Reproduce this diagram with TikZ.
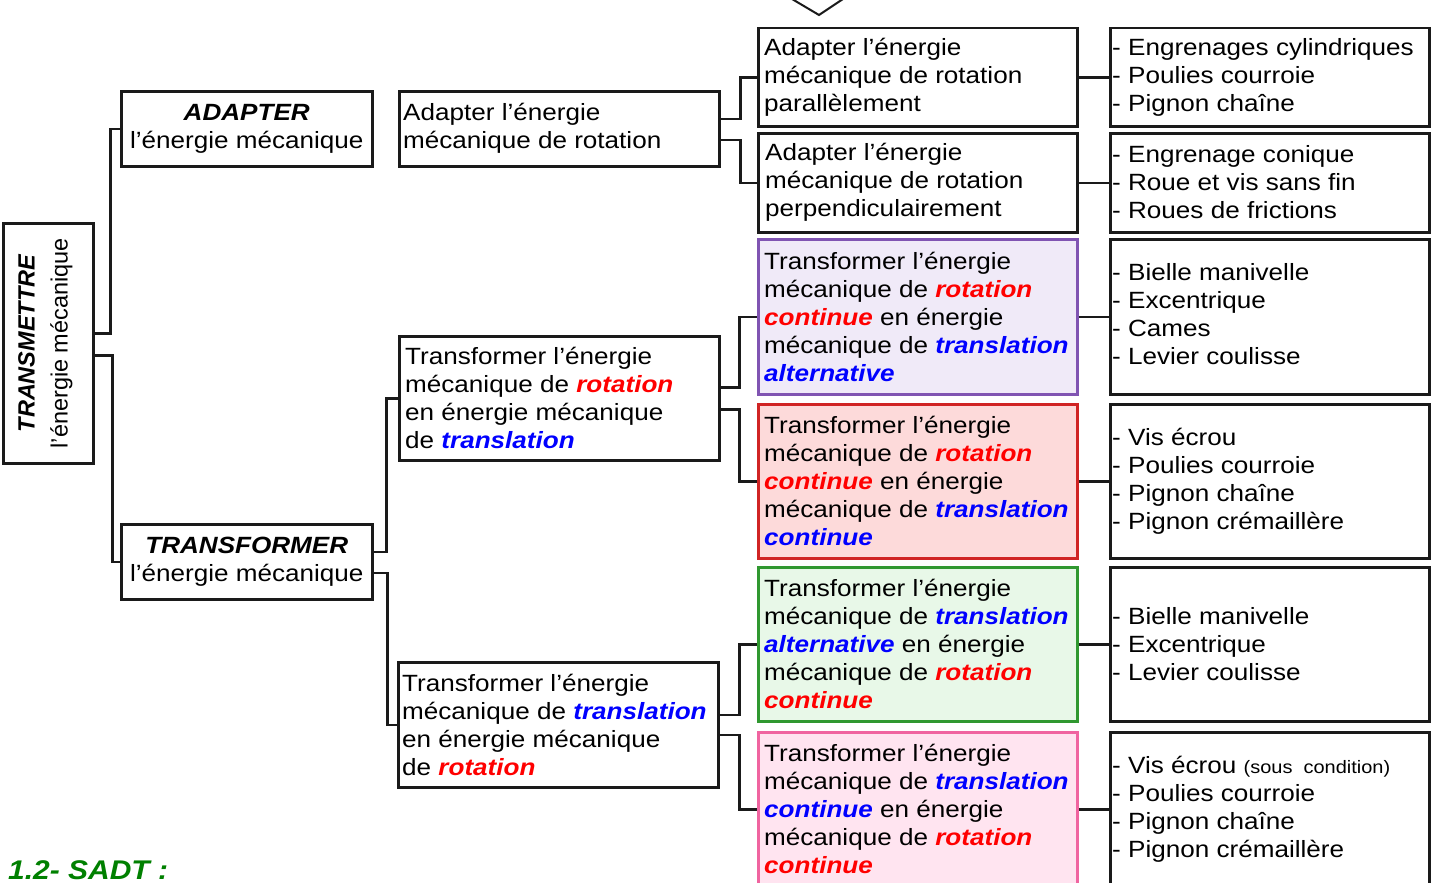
\documentclass[tikz,border=0pt]{standalone}
\usepackage{fontspec}
\setmainfont{Liberation Sans}[FakeStretch=1.11]
\newfontfamily\plainsans{Liberation Sans}
\usetikzlibrary{calc}
\definecolor{myred}{RGB}{255,0,0}
\definecolor{myblue}{RGB}{0,0,255}
\definecolor{titlegreen}{RGB}{0,128,0}
\definecolor{purpfill}{RGB}{240,234,248}
\definecolor{purpdraw}{RGB}{128,84,178}
\definecolor{redfill}{RGB}{253,218,218}
\definecolor{reddraw}{RGB}{208,36,36}
\definecolor{greenfill}{RGB}{232,248,232}
\definecolor{greendraw}{RGB}{48,152,48}
\definecolor{pinkfill}{RGB}{255,228,240}
\definecolor{pinkdraw}{RGB}{240,100,160}
\definecolor{ink}{RGB}{26,26,26}
\newcommand\redw[1]{\textcolor{myred}{\bfseries\itshape #1}}
\newcommand\bluew[1]{\textcolor{myblue}{\bfseries\itshape #1}}
\begin{document}
\begin{tikzpicture}[x=1pt,y=-1pt,
  box/.style={draw=ink, line width=2.5pt, inner sep=0pt, anchor=north west, fill=white},
  purpbox/.style={box, draw=purpdraw, fill=purpfill},
  redbox/.style={box, draw=reddraw, fill=redfill},
  greenbox/.style={box, draw=greendraw, fill=greenfill},
  pinkbox/.style={box, draw=pinkdraw, fill=pinkfill},
  txt/.style={inner sep=0pt, align=left, anchor=west, font=\fontsize{23.5}{28}\selectfont},
  ctxt/.style={inner sep=0pt, align=center, font=\fontsize{23.5}{28}\selectfont},
  link/.style={draw=ink, line width=2.5pt}]
\useasboundingbox (0,0) rectangle (1432,883);
\fill[white] (0,0) rectangle (1432,883);

% chevron at top
\draw[ink, line width=2pt] (792,-1) -- (819,15) -- (843,-1);

% boxes
\node[box, minimum width=90pt, minimum height=240pt] (trm) at (2,222) {};
\node[box, minimum width=251pt, minimum height=75pt] (adp) at (120,90) {};
\node[box, minimum width=251pt, minimum height=75pt] (tfm) at (120,523) {};
\node[box, minimum width=320pt, minimum height=75pt] (b4) at (398,90) {};
\node[box, minimum width=320pt, minimum height=124pt] (b5) at (398,335) {};
\node[box, minimum width=320pt, minimum height=125pt] (b6) at (397,661) {};

\node[box, minimum width=319pt, minimum height=98pt] (c3a) at (757,27) {};
\node[box, minimum width=319pt, minimum height=99pt] (c3b) at (757,132) {};
\node[purpbox, minimum width=319pt, minimum height=155pt] (c3c) at (757,238) {};
\node[redbox, minimum width=319pt, minimum height=154pt] (c3d) at (757,403) {};
\node[greenbox, minimum width=319pt, minimum height=154pt] (c3e) at (757,566) {};
\node[pinkbox, minimum width=319pt, minimum height=154pt] (c3f) at (757,731) {};

\node[box, minimum width=319pt, minimum height=98pt] (c4a) at (1109,27) {};
\node[box, minimum width=319pt, minimum height=99pt] (c4b) at (1109,132) {};
\node[box, minimum width=319pt, minimum height=155pt] (c4c) at (1109,238) {};
\node[box, minimum width=319pt, minimum height=154pt] (c4d) at (1109,403) {};
\node[box, minimum width=319pt, minimum height=154pt] (c4e) at (1109,566) {};
\node[box, minimum width=319pt, minimum height=154pt] (c4f) at (1109,731) {};

% texts
\node[ctxt, rotate=90, font=\plainsans\fontsize{23.5}{33}\selectfont] (trmt) at ([xshift=-3pt]trm.center) {\textbf{\textit{TRANSMETTRE}}\\l’énergie mécanique};
\node[ctxt] (adpt) at (adp.center) {\textbf{\textit{ADAPTER}}\\l’énergie mécanique};
\node[ctxt] (tfmt) at (tfm.center) {\textbf{\textit{TRANSFORMER}}\\l’énergie mécanique};
\node[txt] (b4t) at ([xshift=5pt]b4.west) {Adapter l’énergie\\mécanique de rotation};
\node[txt] (b5t) at ([xshift=7pt]b5.west) {Transformer l’énergie\\mécanique de \redw{rotation}\\en énergie mécanique\\de \bluew{translation}};
\node[txt] (b6t) at ([xshift=5pt]b6.west) {Transformer l’énergie\\mécanique de \bluew{translation}\\en énergie mécanique\\de \redw{rotation}};

\node[txt] (c3at) at ([xshift=7pt]c3a.west) {Adapter l’énergie\\mécanique de rotation\\parallèlement};
\node[txt] (c3bt) at ([xshift=8pt]c3b.west) {Adapter l’énergie\\mécanique de rotation\\perpendiculairement};
\node[txt] (c3ct) at ([xshift=7pt]c3c.west) {Transformer l’énergie\\mécanique de \redw{rotation}\\\redw{continue} en énergie\\mécanique de \bluew{translation}\\\bluew{alternative}};
\node[txt] (c3dt) at ([xshift=7pt]c3d.west) {Transformer l’énergie\\mécanique de \redw{rotation}\\\redw{continue} en énergie\\mécanique de \bluew{translation}\\\bluew{continue}};
\node[txt] (c3et) at ([xshift=7pt]c3e.west) {Transformer l’énergie\\mécanique de \bluew{translation}\\\bluew{alternative} en énergie\\mécanique de \redw{rotation}\\\redw{continue}};
\node[txt] (c3ft) at ([xshift=7pt]c3f.west) {Transformer l’énergie\\mécanique de \bluew{translation}\\\bluew{continue} en énergie\\mécanique de \redw{rotation}\\\redw{continue}};

\node[txt] (c4at) at ([xshift=3pt]c4a.west) {- Engrenages cylindriques\\- Poulies courroie\\- Pignon chaîne};
\node[txt] (c4bt) at ([xshift=3pt,yshift=1pt]c4b.west) {- Engrenage conique\\- Roue et vis sans fin\\- Roues de frictions};
\node[txt] (c4ct) at ([xshift=3pt,yshift=3pt]c4c.west) {- Bielle manivelle\\- Excentrique\\- Cames\\- Levier coulisse};
\node[txt] (c4dt) at ([xshift=3pt]c4d.west) {- Vis écrou\\- Poulies courroie\\- Pignon chaîne\\- Pignon crémaillère};
\node[txt] (c4et) at ([xshift=3pt]c4e.west) {- Bielle manivelle\\- Excentrique\\- Levier coulisse};
\node[txt] (c4ft) at ([xshift=3pt]c4f.west) {- Vis écrou {\fontsize{18}{28}\selectfont(sous\ \ condition)}\\- Poulies courroie\\- Pignon chaîne\\- Pignon crémaillère};

\node[anchor=base west, inner sep=0pt, text=titlegreen, font=\fontsize{27}{30}\selectfont\bfseries\itshape] (title) at (8,879) {1.2- SADT :};

% connectors
\draw[link] ([yshift=10pt]trm.east) -- ++(16,0) |- (adp.west);
\draw[link] ([yshift=-12pt]trm.east) -- ++(18,0) |- (tfm.west);
\draw[link] ([yshift=10pt]tfm.east) -- ++(13,0) |- (b5.west);
\draw[link] ([yshift=-11pt]tfm.east) -- ++(14,0) |- (b6.west);
\draw[link] ([yshift=10pt]b4.east) -- ++(20,0) |- (c3a.west);
\draw[link] ([yshift=-11pt]b4.east) -- ++(20,0) |- (c3b.west);
\draw[link] ([yshift=11pt]b5.east) -- ++(19,0) |- (c3c.west);
\draw[link] ([yshift=-11pt]b5.east) -- ++(19,0) |- (c3d.west);
\draw[link] ([yshift=10pt]b6.east) -- ++(20,0) |- (c3e.west);
\draw[link] ([yshift=-10pt]b6.east) -- ++(20,0) |- (c3f.west);
\draw[link] (c3a.east) -- (c4a.west);
\draw[link] (c3b.east) -- (c4b.west);
\draw[link] (c3c.east) -- (c4c.west);
\draw[link] (c3d.east) -- (c4d.west);
\draw[link] (c3e.east) -- (c4e.west);
\draw[link] (c3f.east) -- (c4f.west);
\end{tikzpicture}
\end{document}
